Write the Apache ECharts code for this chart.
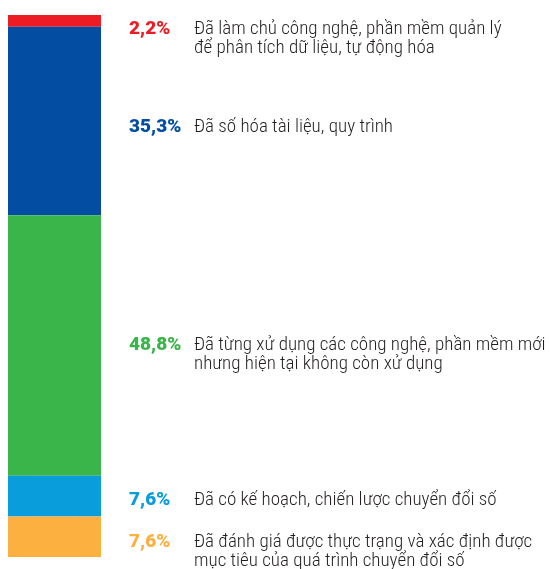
<!DOCTYPE html>
<html>
<head>
<meta charset="utf-8">
<script src="https://cdn.jsdelivr.net/npm/echarts@6/dist/echarts.min.js"></script>
<style>
  html, body { margin: 0; padding: 0; background: #fff; }
  #chart { width: 551px; height: 569px; }
</style>
</head>
<body>
<div id="chart"></div>
<script>
const categories = ['Doanh nghiệp'];
const percentLabels = ['2,2%', '35,3%', '48,8%', '7,6%', '7,6%'];
const values = [2.2, 35.3, 48.8, 7.6, 7.6];
const descriptions = [
    'Đã làm chủ công nghệ, phần mềm quản lý\nđể phân tích dữ liệu, tự động hóa',
    'Đã số hóa tài liệu, quy trình',
    'Đã từng xử dụng các công nghệ, phần mềm mới\nnhưng hiện tại không còn xử dụng',
    'Đã có kế hoạch, chiến lược chuyển đổi số',
    'Đã đánh giá được thực trạng và xác định được\nmục tiêu của quá trình chuyển đổi số',
];

const colors = ['#ed1c24', '#034ea2', '#3ab54a', '#0a9ddb', '#fbb040'];
// nudges so labels sit where the original puts them
const labelShift = [18, 6, 9, 4, 15];

const total = values.reduce((a, b) => a + b, 0);

const chart = echarts.init(document.getElementById('chart'), null, { renderer: 'canvas' });

const option = {
    animation: false,
    grid: { left: 8, top: 15, width: 93, height: 542, containLabel: false },
    xAxis: {
        type: 'category',
        data: categories,
        show: false,
    },
    yAxis: {
        type: 'value',
        inverse: true,
        min: 0,
        max: total,
        show: false,
    },
    series: values.map((v, i) => {
        const lines = descriptions[i].split('\n');
        const text = lines
            .map((ln, j) => (j === 0 ? `{p|${percentLabels[i]}}` : '{p| }') + `{d|${ln}}`)
            .join('\n');
        return {
            type: 'bar',
            stack: 'all',
            barWidth: 93,
            data: [v],
            itemStyle: { color: colors[i] },
            label: {
                show: true,
                position: 'right',
                distance: 28,
                offset: [0, labelShift[i]],
                formatter: text,
                rich: {
                    p: {
                        width: 65,
                        fontFamily: 'Roboto',
                        fontWeight: 900,
                        fontSize: 19,
                        color: colors[i],
                        lineHeight: 19,
                    },
                    d: {
                        fontFamily: 'Roboto',
                        fontWeight: '300 condensed',
                        fontSize: 19,
                        color: '#231f20',
                        lineHeight: 19,
                    },
                },
            },
        };
    }),
};

chart.setOption(option);
</script>
</body>
</html>
